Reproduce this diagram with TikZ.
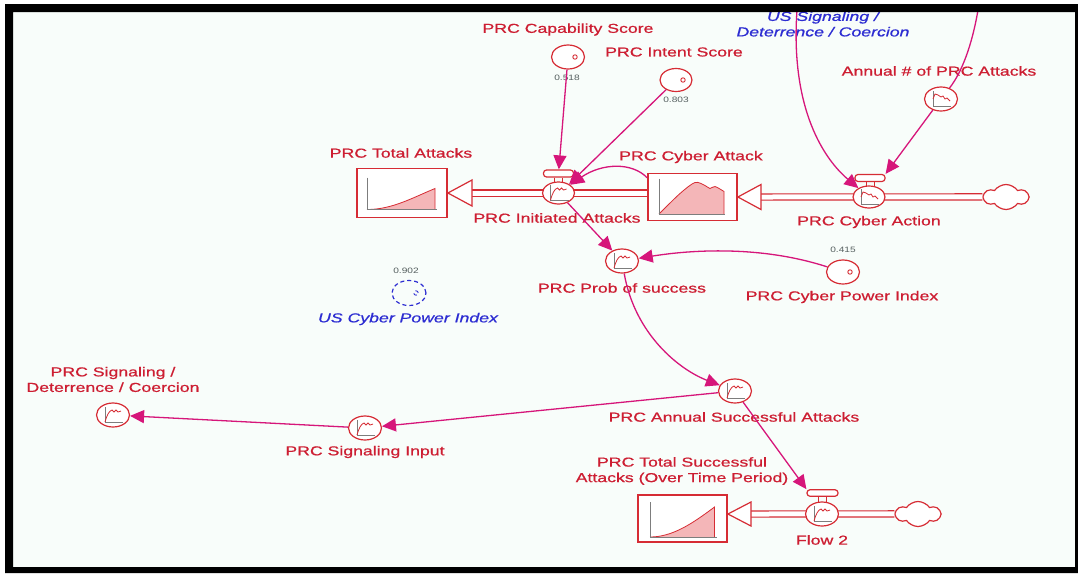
\documentclass[tikz,border=0pt]{standalone}
\usepackage{fontspec}
\newfontfamily\lblfont[FakeStretch=1.36,FakeBold=0.8]{Liberation Sans}
\newfontfamily\valfont[FakeStretch=1.3]{Liberation Sans}
\usetikzlibrary{arrows.meta,shapes.geometric,shapes.symbols}

\definecolor{lblred}{RGB}{205,30,50}
\definecolor{shred}{RGB}{214,44,52}
\definecolor{linkmag}{RGB}{214,22,122}
\definecolor{usblue}{RGB}{45,45,210}
\definecolor{stockfill}{RGB}{244,182,184}
\definecolor{axisgray}{RGB}{125,125,125}
\definecolor{valgray}{RGB}{85,95,95}
\definecolor{canvasbg}{RGB}{248,253,250}

\tikzset{
  lbl/.style={font=\lblfont\fontsize{13}{15.5}\selectfont, text=lblred, inner sep=0pt, align=center},
  uslbl/.style={font=\lblfont\itshape\fontsize{13}{15.5}\selectfont, text=usblue, inner sep=0pt, align=center},
  val/.style={font=\valfont\fontsize{7.8}{9}\selectfont, text=valgray, inner sep=0pt},
  conv/.style={ellipse, draw=shred, line width=1.2pt, fill=white, minimum width=33pt, minimum height=24pt, inner sep=0pt},
  upicon/.style={path picture={
    \begin{scope}[shift={(path picture bounding box.center)}]
      \draw[axisgray, line width=0.9pt] (-8,-8) -- (-8,7) -- (10,7);
      \draw[shred, line width=0.8pt] (-8,7) .. controls (-6,0) and (-4,-4) .. (-1,-5) -- (1,-3) -- (3,-5) -- (5,-3) -- (8,-4);
    \end{scope}}},
  downicon/.style={path picture={
    \begin{scope}[shift={(path picture bounding box.center)}]
      \draw[axisgray, line width=0.9pt] (-8,-8) -- (-8,7) -- (10,7);
      \draw[shred, line width=0.8pt] (-8,0) -- (-6,-5) -- (-3,-4) -- (0,-2) -- (2,-3) -- (4,0) -- (6,-1) -- (9,2);
    \end{scope}}},
  const/.style={ellipse, draw=shred, line width=1.2pt, fill=white, minimum width=33pt, minimum height=24pt, inner sep=0pt,
    path picture={\draw[shred, line width=0.9pt] ([xshift=7pt]path picture bounding box.center) circle (2.2pt);}},
  stock/.style={rectangle, draw=shred, line width=1.8pt, fill=white, minimum width=89pt, minimum height=47pt, inner sep=0pt},
  valvebar/.style={rectangle, rounded corners=3pt, draw=shred, line width=1.2pt, fill=white, minimum width=30pt, minimum height=7pt, inner sep=0pt},
  stem/.style={draw=shred, line width=1pt},
  pipe/.style={draw=shred, line width=1.2pt, double=white, double distance=5pt},
  head/.style={draw=shred, line width=1.2pt, fill=white, line join=miter},
  cloudy/.style={cloud, cloud puffs=6, cloud puff arc=110, aspect=2, draw=shred, line width=1.2pt, fill=white, minimum width=44pt, minimum height=25pt, inner sep=0pt},
  link/.style={draw=linkmag, line width=1.3pt, -{Triangle[length=14pt, width=13pt]}},
  linkplain/.style={draw=linkmag, line width=1.3pt}
}

\begin{document}
\begin{tikzpicture}[x=1pt,y=-1pt]
\useasboundingbox (0,0) rectangle (1078,573);
\fill[white] (0,0) rectangle (1078,573);
\fill[canvasbg] (13,12) rectangle (1075,567);

% ---------- stocks ----------
\node[stock, minimum width=90pt, minimum height=49pt, path picture={
  \begin{scope}[shift={(path picture bounding box.center)}]
    \fill[stockfill] (-35,16.5) .. controls (-10,16.5) and (10,5) .. (33,-4.5) -- (33,16.5) -- cycle;
    \draw[shred, line width=0.8pt] (-35,16.5) .. controls (-10,16.5) and (10,5) .. (33,-4.5) -- (33,16.5);
    \draw[axisgray, line width=1pt] (-35,-15.5) -- (-35,16.5) -- (35,16.5);
  \end{scope}}] (ta) at (402,193) {};

\node[stock, path picture={
  \begin{scope}[shift={(path picture bounding box.center)}]
    \fill[stockfill] plot[smooth] coordinates {(-33.5,17) (-12.5,-3.5) (2.5,-14.5) (12.5,-11.5) (17.5,-8.5) (22.5,-10.5) (31.5,-5.5)} -- (31.5,17) -- cycle;
    \draw[shred, line width=0.8pt] plot[smooth] coordinates {(-33.5,17) (-12.5,-3.5) (2.5,-14.5) (12.5,-11.5) (17.5,-8.5) (22.5,-10.5) (31.5,-5.5)} -- (31.5,17);
    \draw[axisgray, line width=1pt] (-33.5,-18.5) -- (-33.5,17) -- (32.5,17);
  \end{scope}}] (ca) at (692.5,197) {};

\node[stock, path picture={
  \begin{scope}[shift={(path picture bounding box.center)}]
    \fill[stockfill] (-32.5,18.5) .. controls (-10,18.5) and (10,5) .. (32,-11.5) -- (32,18.5) -- cycle;
    \draw[shred, line width=0.8pt] (-32.5,18.5) .. controls (-10,18.5) and (10,5) .. (32,-11.5) -- (32,18.5);
    \draw[axisgray, line width=1pt] (-32.5,-16.5) -- (-32.5,18.5) -- (34.5,18.5);
  \end{scope}}] (tss) at (682.5,518.5) {};

% ---------- clouds and flow pipes ----------
\node[cloudy] (cloudA) at (1006,197) {};
\node[cloudy] (cloudB) at (918,514) {};
\coordinate (tahead) at (472,193);
\coordinate (cahead) at (761,197);
\coordinate (tsshead) at (751,514);

\draw[pipe] (ca.west |- tahead) -- ([xshift=-3pt]tahead);
\draw[head] (ta.east |- tahead) -- ([yshift=13pt]tahead) -- ([yshift=-13pt]tahead) -- cycle;
\draw[pipe] (cloudA.west) -- ([xshift=-3pt]cahead);
\draw[head] (ca.east |- cahead) -- ([yshift=12.5pt]cahead) -- ([yshift=-12.5pt]cahead) -- cycle;
\draw[pipe] (cloudB.west) -- ([xshift=-3pt]tsshead);
\draw[head] (tss.east |- tsshead) -- ([yshift=12pt]tsshead) -- ([yshift=-12pt]tsshead) -- cycle;

% ---------- valves ----------
\node[valvebar] (iabar) at (558.5,173.5) {};
\draw[stem] ([xshift=-4pt]iabar.south) -- ++(0,6) ([xshift=4pt]iabar.south) -- ++(0,6);
\node[conv, upicon, minimum width=32pt, minimum height=22pt] (ia) at (558.5,193) {};

\node[valvebar] (cactbar) at (870,178) {};
\draw[stem] ([xshift=-4pt]cactbar.south) -- ++(0,6) ([xshift=4pt]cactbar.south) -- ++(0,6);
\node[conv, downicon, minimum width=32pt, minimum height=22pt] (cact) at (869,197) {};

\node[valvebar, minimum width=31pt, minimum height=6.5pt] (f2bar) at (822.5,493) {};
\draw[stem] ([xshift=-4pt]f2bar.south) -- ++(0,6) ([xshift=4pt]f2bar.south) -- ++(0,6);
\node[conv, upicon] (f2) at (822,514) {};

% ---------- converters ----------
\node[conv, downicon] (ann) at (941,99) {};
\node[conv, upicon] (pos) at (622,261) {};
\node[conv, upicon] (asa) at (735,391) {};
\node[conv, upicon] (sigin) at (365,428) {};
\node[conv, upicon] (sigdet) at (113,415) {};

% ---------- constants ----------
\node[const] (cap) at (568,57) {};
\node[const, minimum width=32pt, minimum height=23pt] (intent) at (676,80) {};
\node[const] (cpi) at (843,272) {};
\node[ellipse, draw=usblue, line width=1.2pt, dash pattern=on 4pt off 3pt, minimum width=34pt, minimum height=25pt, inner sep=0pt,
  path picture={\draw[usblue, line width=0.9pt] ([xshift=7pt]path picture bounding box.center) circle (2.2pt);}] (uscpi) at (409,293) {};

\node[val] (cap-v) at (567,77.5) {0.518};
\node[val] (intent-v) at (676,100) {0.803};
\node[val] (cpi-v) at (843,250) {0.415};
\node[val] (uscpi-v) at (406,271) {0.902};

% ---------- labels ----------
\node[lbl] (cap-l) at (568,29.5) {PRC Capability Score};
\node[lbl] (intent-l) at (674,52) {PRC Intent Score};
\node[lbl] (ta-l) at (401,153) {PRC Total Attacks};
\node[lbl] (ca-l) at (691,157) {PRC Cyber Attack};
\node[lbl] (ia-l) at (557,218) {PRC Initiated Attacks};
\node[lbl] (cact-l) at (869,222) {PRC Cyber Action};
\node[lbl] (ann-l) at (939,71) {Annual \# of PRC Attacks};
\node[uslbl] (ussig-l) at (823,24) {US Signaling /\\Deterrence / Coercion};
\node[lbl] (pos-l) at (622,288) {PRC Prob of success};
\node[lbl] (cpi-l) at (842,297) {PRC Cyber Power Index};
\node[uslbl] (uscpi-l) at (408,319) {US Cyber Power Index};
\node[lbl] (asa-l) at (734,417) {PRC Annual Successful Attacks};
\node[lbl] (sigin-l) at (365,452) {PRC Signaling Input};
\node[lbl] (sigdet-l) at (113,379.5) {PRC Signaling /\\Deterrence / Coercion};
\node[lbl] (tss-l) at (682,471) {PRC Total Successful\\Attacks (Over Time Period)};
\node[lbl] (f2-l) at (822,540) {Flow 2};

% ---------- connectors ----------
\coordinate (usin) at (797,10);
\coordinate (topr) at (978,10);

\draw[link] (cap) -- (iabar);
\draw[link] (intent) -- (ia.40);
\draw[link] (ca.157) .. controls (632,162) and (602,163) .. (ia.35);
\draw[link] (usin) .. controls (790,110) and (825,160) .. (cact.140);
\draw[linkplain] (topr) .. controls (972,45) and (962,72) .. (ann);
\draw[link] (ann) -- (cactbar.north east);
\draw[link] (ia) -- (pos);
\draw[link] (cpi) .. controls (760,245) and (690,250) .. (pos);
\draw[link] (pos) .. controls (635,335) and (680,370) .. (asa);
\draw[link] (asa) -- (sigin);
\draw[link] (sigin) -- (sigdet);
\draw[link] (asa) -- (f2bar.north west);

% ---------- frame ----------
\fill[black, even odd rule] (5,4) rectangle (1078,573) (13,12) rectangle (1075,567);
\end{tikzpicture}
\end{document}
